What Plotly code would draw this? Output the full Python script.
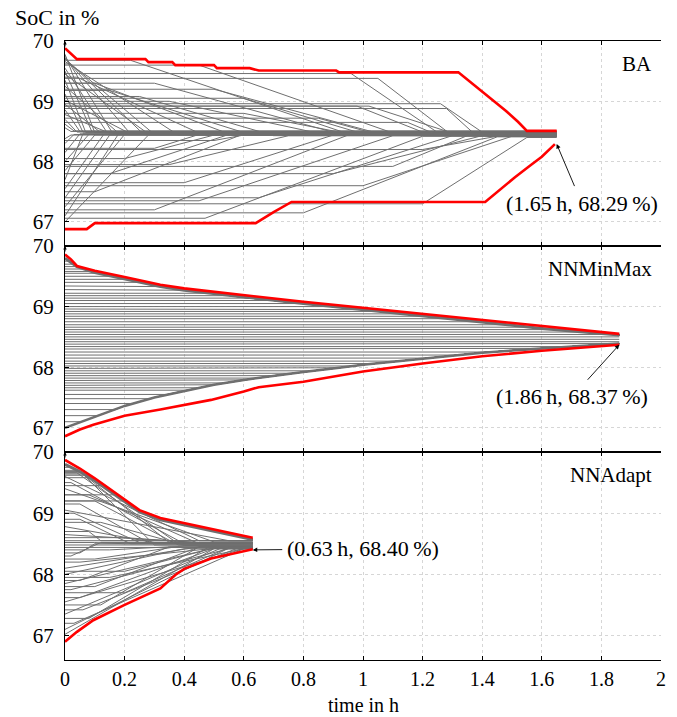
import plotly.graph_objects as go

FONT = "Liberation Serif"
GRAY = "#6f6f6f"
RED = "#ff0000"

PANEL_NAMES = ["BA", "NNMinMax", "NNAdapt"]
T_END = [1.65, 1.86, 0.63]
X_TICKS = [0, 0.2, 0.4, 0.6, 0.8, 1.0, 1.2, 1.4, 1.6, 1.8, 2.0]
X_TICK_TEXT = ["0", "0.2", "0.4", "0.6", "0.8", "1", "1.2", "1.4", "1.6", "1.8", "2"]
Y_TICKS = [67, 68, 69, 70]

# ---------------- BA ----------------
# (start SoC, time ramp starts, time converged, final SoC)
BA_LINES = [
    (69.78, 0.00, 0.10, 68.48), (69.75, 0.00, 0.16, 68.47), (69.72, 0.00, 0.22, 68.46),
    (69.70, 0.00, 0.30, 68.45), (69.66, 0.00, 0.38, 68.44), (69.62, 0.02, 0.26, 68.47),
    (69.55, 0.00, 0.14, 68.49), (69.50, 0.00, 0.09, 68.50), (69.45, 0.00, 0.28, 68.46),
    (69.40, 0.04, 0.46, 68.45), (69.35, 0.00, 0.07, 68.48), (69.30, 0.10, 0.56, 68.44),
    (69.25, 0.00, 0.18, 68.47), (69.18, 0.15, 0.62, 68.45), (69.12, 0.00, 0.06, 68.49),
    (69.08, 0.25, 0.70, 68.43), (69.02, 0.00, 0.22, 68.46), (68.95, 0.00, 0.12, 68.48),
    (68.86, 0.00, 0.05, 68.50), (68.78, 0.00, 0.15, 68.47), (68.70, 0.00, 0.04, 68.49),
    (68.62, 0.00, 0.03, 68.51), (68.56, 0.00, 0.02, 68.50),
    (69.68, 0.22, 0.95, 68.46), (69.60, 0.45, 1.12, 68.44), (69.46, 0.96, 1.26, 68.45),
    (69.38, 1.05, 1.30, 68.43), (69.20, 0.50, 1.05, 68.47), (69.05, 0.60, 1.00, 68.46),
    (68.92, 0.98, 1.22, 68.45), (68.92, 1.02, 1.32, 68.44), (68.96, 1.26, 1.42, 68.42),
    (68.88, 1.28, 1.38, 68.43), (68.80, 0.60, 0.95, 68.46), (68.72, 0.85, 1.05, 68.45),
    (69.00, 0.35, 0.85, 68.47), (69.30, 0.30, 0.92, 68.46), (68.65, 1.15, 1.25, 68.44),
    (68.38, 0.00, 0.02, 68.44), (68.30, 0.00, 0.03, 68.45), (68.15, 0.00, 0.05, 68.46),
    (68.00, 0.00, 0.08, 68.45), (67.85, 0.00, 0.10, 68.44), (67.70, 0.00, 0.06, 68.46),
    (67.55, 0.00, 0.13, 68.45), (67.40, 0.00, 0.15, 68.44), (67.25, 0.00, 0.20, 68.45),
    (67.10, 0.00, 0.18, 68.46), (67.00, 0.00, 0.28, 68.44),
    (68.22, 0.30, 0.45, 68.45), (68.05, 0.20, 0.50, 68.44), (67.95, 0.35, 0.75, 68.43),
    (67.80, 0.15, 0.55, 68.45), (67.65, 0.40, 0.90, 68.44), (67.50, 0.10, 0.60, 68.46),
    (67.35, 0.45, 1.10, 68.43), (67.20, 0.30, 0.95, 68.44), (67.06, 0.47, 1.20, 68.42),
    (67.15, 0.80, 1.45, 68.41), (67.92, 1.10, 1.35, 68.43), (67.60, 1.00, 1.50, 68.42),
    (67.40, 0.65, 1.30, 68.43), (68.20, 1.20, 1.45, 68.42), (67.80, 0.90, 1.40, 68.43),
    (68.35, 0.50, 0.60, 68.44), (67.30, 1.20, 1.55, 68.40),
]
BA_MAX_T = [0, 0.04, 0.27, 0.28, 0.36, 0.37, 0.50, 0.51, 0.62, 0.65, 0.91, 0.92, 1.32,
            1.36, 1.40, 1.44, 1.48, 1.52, 1.55, 1.65]
BA_MAX_V = [69.88, 69.70, 69.70, 69.65, 69.65, 69.60, 69.60, 69.55, 69.55, 69.51, 69.51, 69.48, 69.48,
            69.32, 69.15, 69.00, 68.84, 68.66, 68.51, 68.51]
BA_MIN_T = [0, 0.073, 0.10, 0.64, 0.70, 0.76, 1.41, 1.46, 1.51, 1.56, 1.60, 1.644]
BA_MIN_V = [66.88, 66.88, 66.98, 66.98, 67.16, 67.33, 67.33, 67.54, 67.74, 67.93, 68.08, 68.29]

# ---------------- NNMinMax ----------------
MM_MAX_T = [0, 0.02, 0.04, 0.10, 0.20, 0.32, 0.40, 0.49, 0.60, 0.70, 0.80, 0.90, 1.00, 1.20, 1.40, 1.60, 1.86]
MM_MAX_V = [69.86, 69.78, 69.67, 69.59, 69.49, 69.36, 69.30, 69.25, 69.18, 69.13, 69.08, 69.03, 68.98, 68.88, 68.78, 68.67, 68.55]
MM_MIN_T = [0, 0.05, 0.095, 0.20, 0.32, 0.40, 0.49, 0.60, 0.65, 0.80, 0.90, 1.00, 1.20, 1.40, 1.60, 1.86]
MM_MIN_V = [66.86, 66.97, 67.05, 67.20, 67.30, 67.37, 67.46, 67.60, 67.67, 67.76, 67.85, 67.93, 68.06, 68.18, 68.27, 68.37]
# gray bundles just inside the envelope
MM_TOP_T = [0, 0.04, 0.10, 0.20, 0.32, 0.40, 0.49, 0.60, 0.70, 0.80, 0.90, 1.00, 1.20, 1.40, 1.60, 1.86]
MM_TOP_V = [69.80, 69.66, 69.56, 69.46, 69.33, 69.27, 69.22, 69.15, 69.10, 69.05, 69.00, 68.95, 68.85, 68.75, 68.64, 68.53]
MM_LOW_T = [0, 0.10, 0.20, 0.30, 0.40, 0.50, 0.60, 0.70, 0.80, 0.92, 1.00, 1.20, 1.40, 1.60, 1.86]
MM_LOW_V = [67.00, 67.18, 67.36, 67.50, 67.61, 67.71, 67.79, 67.86, 67.92, 67.99, 68.04, 68.14, 68.24, 68.31, 68.39]
# (start SoC, time it joins the upper bundle)
MM_TOP_LINES = [
    (69.75, 0.01), (69.70, 0.03), (69.66, 0.04), (69.62, 0.064), (69.58, 0.09), (69.55, 0.11),
    (69.50, 0.16), (69.45, 0.21), (69.40, 0.25), (69.34, 0.31), (69.28, 0.39), (69.22, 0.49),
    (69.18, 0.55), (69.14, 0.62), (69.10, 0.70), (69.05, 0.80), (69.00, 0.90), (68.96, 0.98),
    (68.92, 1.06), (68.88, 1.14), (68.84, 1.22), (68.80, 1.30), (68.75, 1.40), (68.70, 1.49),
    (68.66, 1.56), (68.62, 1.64), (68.58, 1.74),
]
MM_FLAT_LINES = [68.54, 68.50, 68.46, 68.42]
# (start SoC, time it joins the lower bundle)
MM_LOW_LINES = [
    (67.00, 0.0), (67.10, 0.055), (67.20, 0.11), (67.30, 0.17), (67.40, 0.23), (67.48, 0.29),
    (67.55, 0.34), (67.62, 0.41), (67.66, 0.45), (67.70, 0.49), (67.74, 0.54), (67.78, 0.59),
    (67.82, 0.64), (67.86, 0.70), (67.90, 0.77), (67.94, 0.83), (67.98, 0.90), (68.02, 0.97),
    (68.06, 1.04), (68.10, 1.12), (68.15, 1.22), (68.20, 1.32), (68.25, 1.43), (68.30, 1.57),
    (68.34, 1.70), (68.38, 1.83),
]

# ---------------- NNAdapt ----------------
AD_MAX_T = [0, 0.05, 0.10, 0.15, 0.20, 0.25, 0.32, 0.40, 0.49, 0.63]
AD_MAX_V = [69.87, 69.73, 69.57, 69.40, 69.22, 69.05, 68.92, 68.84, 68.75, 68.60]
AD_MIN_T = [0, 0.04, 0.095, 0.20, 0.32, 0.37, 0.40, 0.49, 0.63]
AD_MIN_V = [66.90, 67.06, 67.25, 67.50, 67.77, 67.99, 68.09, 68.26, 68.41]
AD_TOP_T = [0, 0.05, 0.10, 0.15, 0.20, 0.25, 0.32, 0.40, 0.49, 0.63]
AD_TOP_V = [69.80, 69.68, 69.53, 69.36, 69.18, 69.02, 68.89, 68.81, 68.72, 68.57]
AD_TOP_LINES = [(69.75, 0.02), (69.70, 0.04), (69.66, 0.057), (69.62, 0.07), (69.58, 0.083),
                (69.45, 0.124), (69.30, 0.17), (69.20, 0.195)]
AD_LINES = [
    (69.68, 0.05, 0.35, 68.52), (69.66, 0.04, 0.38, 68.50), (69.64, 0.06, 0.30, 68.48),
    (69.60, 0.00, 0.45, 68.55), (69.50, 0.02, 0.40, 68.50), (69.40, 0.00, 0.50, 68.53),
    (69.30, 0.08, 0.45, 68.50), (69.20, 0.10, 0.38, 68.48), (69.15, 0.05, 0.28, 68.52),
    (69.05, 0.00, 0.55, 68.55), (69.00, 0.03, 0.25, 68.52), (68.90, 0.05, 0.22, 68.50),
    (68.85, 0.12, 0.40, 68.48), (68.78, 0.00, 0.30, 68.52), (68.70, 0.08, 0.12, 68.55),
    (68.65, 0.00, 0.45, 68.52), (68.60, 0.20, 0.50, 68.50), (68.55, 0.00, 0.63, 68.55),
    (68.52, 0.10, 0.20, 68.50), (68.48, 0.00, 0.63, 68.48), (68.44, 0.00, 0.63, 68.44),
    (68.40, 0.15, 0.35, 68.45), (68.35, 0.05, 0.10, 68.50), (68.30, 0.02, 0.12, 68.52),
    (68.25, 0.10, 0.40, 68.47), (68.20, 0.05, 0.55, 68.45), (68.10, 0.00, 0.45, 68.45),
    (68.05, 0.20, 0.50, 68.43), (68.00, 0.00, 0.40, 68.42), (67.95, 0.15, 0.60, 68.42),
    (67.90, 0.05, 0.35, 68.45), (67.85, 0.00, 0.50, 68.43), (67.80, 0.10, 0.45, 68.45),
    (67.75, 0.02, 0.55, 68.42), (67.70, 0.20, 0.55, 68.44), (67.62, 0.05, 0.50, 68.42),
    (67.55, 0.00, 0.60, 68.42), (67.50, 0.12, 0.45, 68.45), (67.42, 0.06, 0.58, 68.43),
    (67.35, 0.00, 0.52, 68.42), (67.28, 0.08, 0.48, 68.44), (67.20, 0.03, 0.60, 68.42),
    (67.10, 0.00, 0.55, 68.43), (67.02, 0.00, 0.50, 68.42),
]

# convergence points (t, SoC)
CONV_POINTS = [(1.65, 68.29), (1.86, 68.37), (0.63, 68.40)]

fig = go.Figure()
AX = [("x", "y"), ("x2", "y2"), ("x3", "y3")]


def add(i, x, y, color=GRAY, width=1.0):
    fig.add_trace(go.Scatter(x=x, y=y, mode="lines", line=dict(color=color, width=width),
                             xaxis=AX[i][0], yaxis=AX[i][1], hoverinfo="skip", showlegend=False))


def ramp_lines(i, lines):
    te = T_END[i]
    for v0, th, tc, vf in lines:
        add(i, [0, th, tc, te], [v0, v0, vf, vf])


def follow_lines(i, lines, pt, pv):
    for v0, tj in lines:
        xs = [0, tj] + [t for t in pt if t > tj]
        ys = [v0, v0] + [v for t, v in zip(pt, pv) if t > tj]
        add(i, xs, ys)


# BA
ramp_lines(0, BA_LINES)
add(0, BA_MAX_T, BA_MAX_V, RED, 2.6)
add(0, BA_MIN_T, BA_MIN_V, RED, 2.6)

# NNMinMax
follow_lines(1, MM_TOP_LINES, MM_TOP_T, MM_TOP_V)
follow_lines(1, MM_LOW_LINES, MM_LOW_T, MM_LOW_V)
for v in MM_FLAT_LINES:
    add(1, [0, T_END[1]], [v, v])
add(1, MM_TOP_T, MM_TOP_V, GRAY, 3)
add(1, MM_LOW_T, MM_LOW_V, GRAY, 2.5)
add(1, MM_MAX_T, MM_MAX_V, RED, 2.6)
add(1, MM_MIN_T, MM_MIN_V, RED, 2.6)

# NNAdapt
ramp_lines(2, AD_LINES)
follow_lines(2, AD_TOP_LINES, AD_TOP_T, AD_TOP_V)
add(2, AD_TOP_T, AD_TOP_V, GRAY, 3)
add(2, AD_MAX_T, AD_MAX_V, RED, 2.6)
add(2, AD_MIN_T, AD_MIN_V, RED, 2.6)

# layout geometry
W, H = 677, 717
ML, MR, MT, MB = 65, 16, 41, 57
plot_h = H - MT - MB
bounds_px = [41, 246, 452, 660]
domains = []
for k in range(3):
    top = (H - MB - bounds_px[k]) / plot_h
    bot = (H - MB - bounds_px[k + 1]) / plot_h
    domains.append([max(0, bot), min(1, top)])

font = dict(family=FONT, size=21, color="black")
layout = dict(width=W, height=H, margin=dict(l=ML, r=MR, t=MT, b=MB, autoexpand=False),
              plot_bgcolor="white", paper_bgcolor="white", font=font, showlegend=False)
for k in range(3):
    xa = dict(domain=[0, 1], anchor=AX[k][1], range=[0, 2], tickvals=X_TICKS, ticktext=X_TICK_TEXT,
              showticklabels=(k == 2), showline=True, linecolor="black", linewidth=1.2, mirror="ticks",
              ticks="inside", ticklen=4, tickcolor="black", showgrid=True, gridcolor="#d6d6d6",
              griddash="dot", gridwidth=1, zeroline=False, tickfont=dict(family=FONT, size=20),
              ticklabelstandoff=1, automargin=False)
    if k < 2:
        xa["matches"] = "x3"
    ya = dict(domain=domains[k], anchor=AX[k][0], range=[66.6, 70], tickvals=Y_TICKS,
              showline=True, linecolor="black", linewidth=1, ticks="inside", ticklen=4, tickcolor="black",
              showgrid=True, gridcolor="#d6d6d6", griddash="dot", gridwidth=1, zeroline=False,
              tickfont=dict(family=FONT, size=21), ticklabelstandoff=6, automargin=False)
    layout["xaxis" if k == 0 else f"xaxis{k+1}"] = xa
    layout["yaxis" if k == 0 else f"yaxis{k+1}"] = ya
fig.update_layout(**layout)

anns = []
# panel names
for k, name in enumerate(PANEL_NAMES):
    anns.append(dict(x=1.975, y=69.62, xref=AX[k][0], yref=AX[k][1], text=name, showarrow=False,
                     xanchor="right", yanchor="middle", font=dict(family=FONT, size=21)))
# y-axis arrow tips
for k in range(3):
    anns.append(dict(x=0, y=70, xref=AX[k][0], yref=AX[k][1], text="", showarrow=True,
                     ax=0, ay=7, arrowhead=2, arrowsize=0.7, arrowwidth=1, arrowcolor="black"))
# convergence labels
offsets = [(25, 59), (-47, 52), (110, -1)]
for k, (t, v) in enumerate(CONV_POINTS):
    anns.append(dict(x=t, y=v, xref=AX[k][0], yref=AX[k][1],
                     text=f"({t:.2f}\u2009h, {v:.2f}\u2009%)", showarrow=True,
                     ax=offsets[k][0], ay=offsets[k][1], arrowhead=2, arrowsize=1, arrowwidth=0.9,
                     arrowcolor="black", borderpad=4, font=dict(family=FONT, size=22)))
# axis titles
anns.append(dict(x=(57 - ML) / (W - ML - MR), y=(H - MB - 17) / plot_h, xref="paper", yref="paper",
                 text="SoC in %", showarrow=False, xanchor="center", yanchor="middle",
                 font=dict(family=FONT, size=22)))
anns.append(dict(x=0.5, y=(H - MB - 705) / plot_h, xref="paper", yref="paper",
                 text="time in h", showarrow=False, xanchor="center", yanchor="middle",
                 font=dict(family=FONT, size=20)))
fig.update_layout(annotations=anns)

fig.write_html("out.html", config={"displayModeBar": False},
               post_script="document.body.style.margin='0px';")
